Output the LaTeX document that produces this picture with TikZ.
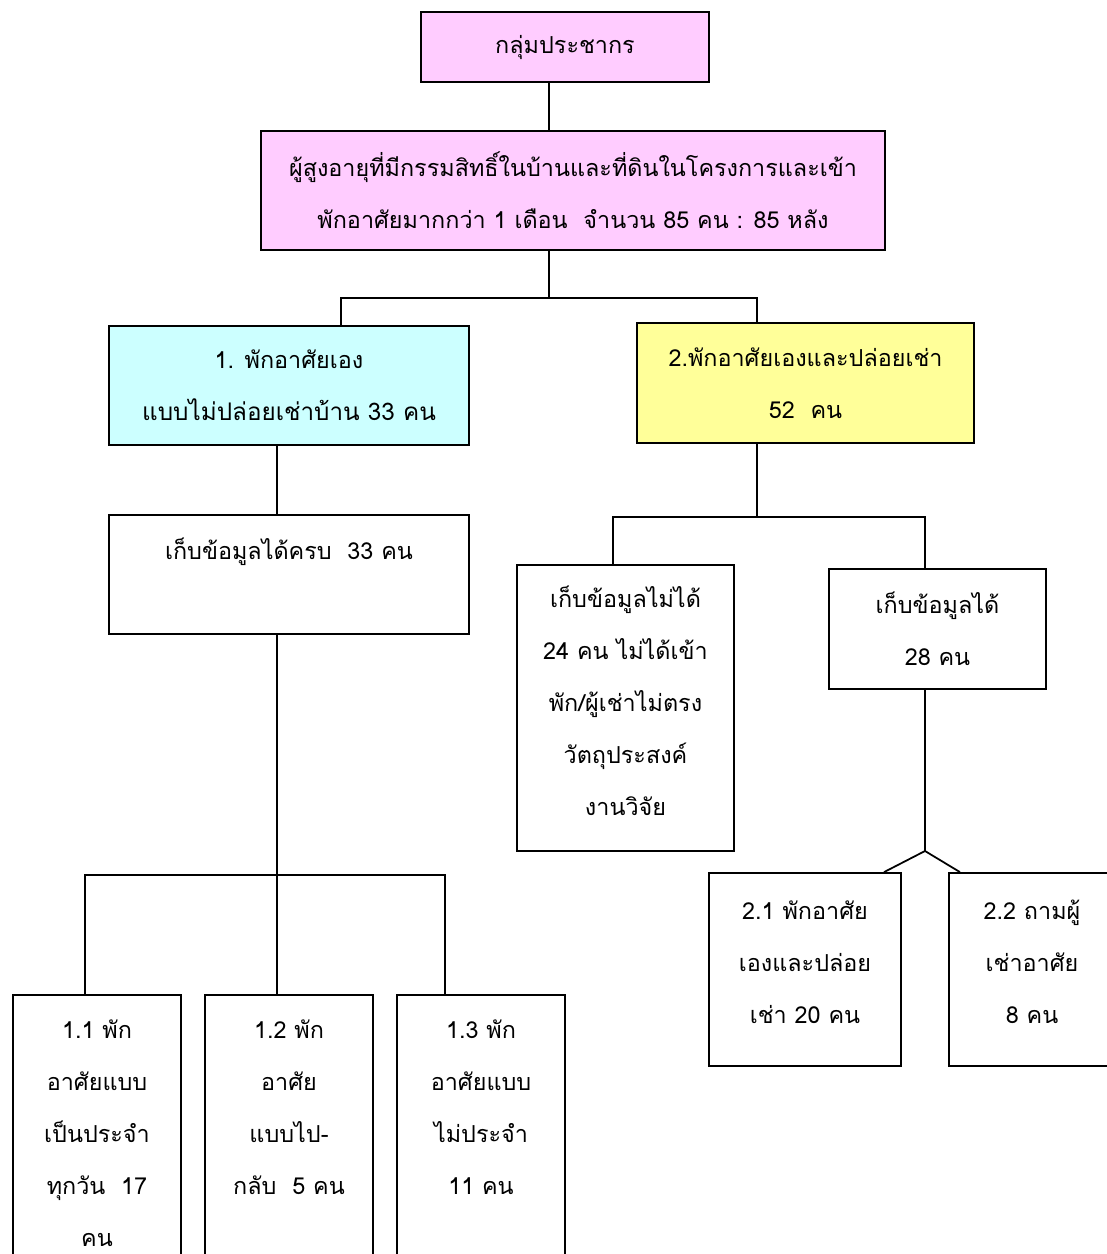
\documentclass[tikz,border=0pt]{standalone}
\usepackage{fontspec}
\setmainfont[Script=Thai]{Loma}
\definecolor{pinkbox}{RGB}{255,204,255}
\definecolor{cyanbox}{RGB}{204,255,255}
\definecolor{yellowbox}{RGB}{255,255,153}
\begin{document}
\begin{tikzpicture}[line width=1pt]
\tikzstyle{block} = [draw,rectangle,line width=1pt,align=center,inner sep=0pt,font=\fontsize{13.3}{29.6}\selectfont]
\tikzstyle{connector} = [line width=1pt]
\useasboundingbox (0,0) rectangle (22.14,-25.08);

\node[block,fill=pinkbox,minimum width=5.76cm,minimum height=1.4cm](grp) at (11.30,-0.94){กลุ่มประชากร};
\node[block,fill=pinkbox,minimum width=12.48cm,minimum height=2.38cm](pop) at (11.46,-3.81){ผู้สูงอายุที่มีกรรมสิทธิ์ในบ้านและที่ดินในโครงการและเข้า\\พักอาศัยมากกว่า 1 เดือน~~จำนวน 85 คน : 85 หลัง};
\node[block,fill=cyanbox,minimum width=7.2cm,minimum height=2.38cm](own) at (5.78,-7.71){1. พักอาศัยเอง\\{\fontsize{13.8}{29.6}\selectfont แบบไม่ปล่อยเช่าบ้าน 33 คน}};
\node[block,fill=yellowbox,minimum width=6.74cm,minimum height=2.4cm](rent) at (16.11,-7.66){2.พักอาศัยเองและปล่อยเช่า\\52~~คน};
\node[block,minimum width=7.2cm,minimum height=2.38cm](owndata) at (5.78,-11.49){เก็บข้อมูลได้ครบ~~33 คน\\~};
\node[block,minimum width=4.34cm,minimum height=5.72cm](nodata) at (12.51,-14.16){เก็บข้อมูลไม่ได้\\24 คน ไม่ได้เข้า\\พัก/ผู้เช่าไม่ตรง\\วัตถุประสงค์\\งานวิจัย\\[-21pt]~};
\node[block,minimum width=4.34cm,minimum height=2.4cm](data) at (18.75,-12.58){เก็บข้อมูลได้\\28 คน};
\node[block,minimum width=3.84cm,minimum height=3.86cm](sub21) at (16.10,-19.39){2.1 พักอาศัย\\เองและปล่อย\\เช่า 20 คน\\[-21pt]~};
\node[block,minimum width=3.32cm,minimum height=3.86cm](sub22) at (20.64,-19.39){2.2 ถามผู้\\เช่าอาศัย\\8 คน\\[-21pt]~};
\node[block,minimum width=3.36cm,minimum height=5.52cm](sub11) at (1.94,-22.66){1.1 พัก\\อาศัยแบบ\\เป็นประจำ\\ทุกวัน~~17\\คน};
\node[block,minimum width=3.36cm,minimum height=5.52cm](sub12) at (5.78,-22.66){1.2 พัก\\อาศัย\\แบบไป-\\กลับ~~5 คน\\~};
\node[block,minimum width=3.36cm,minimum height=5.52cm](sub13) at (9.62,-22.66){1.3 พัก\\อาศัยแบบ\\ไม่ประจำ\\11 คน\\~};

\coordinate (xa) at (10.98,0);
\coordinate (xb) at (6.82,0);
\coordinate (xc) at (15.14,0);
\coordinate (xd) at (5.54,0);
\coordinate (xe) at (12.26,0);
\coordinate (xf) at (18.5,0);
\coordinate (x11) at (1.70,0);
\coordinate (x13) at (8.90,0);
\coordinate (x21) at (17.68,0);
\coordinate (x22) at (19.2,0);
\coordinate (sp1) at (10.98,-5.96);
\coordinate (sp2) at (5.54,-17.5);
\coordinate (sp3) at (15.14,-10.34);
\coordinate (sp4) at (18.5,-17.02);

\draw [connector] (grp.south -| xa) -- (pop.north -| xa);
\draw [connector] (pop.south -| xa) -- (sp1);
\draw [connector] (own.north -| xb) |- (sp1) -| (rent.north -| xc);
\draw [connector] (own.south -| xd) -- (owndata.north -| xd);
\draw [connector] (owndata.south -| xd) -- (sp2);
\draw [connector] (sub11.north -| x11) |- (sp2) -| (sub13.north -| x13);
\draw [connector] (sp2) -- (sub12.north -| xd);
\draw [connector] (rent.south -| xc) -- (sp3);
\draw [connector] (nodata.north -| xe) |- (sp3) -| (data.north -| xf);
\draw [connector] (data.south -| xf) -- (sp4);
\draw [connector] (sub21.north -| x21) -- (sp4) -- (sub22.north -| x22);
\end{tikzpicture}
\end{document}
